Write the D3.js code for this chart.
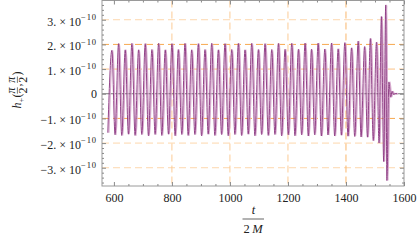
<!DOCTYPE html>
<html>
<head>
<meta charset="utf-8">
<script src="https://cdn.jsdelivr.net/npm/d3@7"></script>
<style>
  body { margin: 0; background: #fff; }
  svg { display: block; font-family: "Liberation Serif", "DejaVu Serif", serif; }
</style>
</head>
<body>
<div id="chart"></div>
<script>
// waveform, strain in units of 1e-10
const startTime = 579;
const startValue = -1.58;

const peakTimes = [593, 616, 639, 662, 685, 708, 731, 754, 777, 800,
    822, 845, 868, 891, 914, 937, 960, 983, 1006, 1029,
    1052, 1075, 1098, 1121, 1144, 1167, 1190, 1213, 1236, 1259,
    1281, 1304, 1327, 1350, 1373, 1396, 1419, 1442, 1464, 1484,
    1505, 1522, 1537];
const peakValues = [1.76, 2.03, 1.78, 2.04, 1.78, 2.03, 1.79, 2.04, 1.78, 2.03,
    1.79, 2.04, 1.78, 2.03, 1.79, 2.04, 1.78, 2.03, 1.79, 2.04,
    1.78, 2.04, 1.79, 2.03, 1.79, 2.04, 1.80, 2.04, 1.80, 2.05,
    1.80, 2.05, 1.81, 2.05, 1.82, 2.07, 1.86, 2.13, 1.91, 2.24,
    2.09, 3.13, 3.60];

const troughTimes = [604, 627, 650, 673, 696, 719, 742, 765, 788, 811,
    834, 856, 879, 902, 925, 948, 971, 994, 1017, 1040,
    1063, 1086, 1109, 1132, 1155, 1178, 1201, 1224, 1247, 1270,
    1292, 1315, 1338, 1361, 1384, 1407, 1430, 1452, 1474, 1494,
    1514, 1530, 1541];
const troughValues = [-1.66, -1.69, -1.64, -1.69, -1.65, -1.70, -1.65, -1.69, -1.64, -1.70,
    -1.65, -1.69, -1.65, -1.70, -1.64, -1.69, -1.65, -1.70, -1.65, -1.69,
    -1.64, -1.70, -1.65, -1.69, -1.65, -1.70, -1.66, -1.70, -1.66, -1.71,
    -1.66, -1.71, -1.67, -1.71, -1.68, -1.72, -1.73, -1.75, -1.76, -1.90,
    -2.00, -2.75, -3.52];

const ringTimes = [1548, 1554, 1559, 1564, 1570, 1576];
const ringValues = [0.48, -0.14, 0.10, -0.03, 0.01, 0];

const xTicks = [600, 800, 1000, 1200, 1400, 1600];
const xGrid = [800, 1000, 1200, 1400];
const yTicks = [-3, -2, -1, 0, 1, 2, 3];
const yGrid = [-3, -2, -1, 1, 2, 3];
const yExponent = "\u221210";

const [W, H] = [417, 247];
const [pLeft, pRight, pTop, pBottom] = [102, 404, 0.5, 186];

let svg = d3.select("#chart")
    .append("svg")
    .attr("width", W)
    .attr("height", H);

const x = d3.scaleLinear().domain([559, 1600]).range([pLeft, pRight]);
const y = d3.scaleLinear().domain([-3.74, 3.78]).range([pBottom, pTop]);

// build the point list: start, then peak / trough in turn, then ringdown
let points = [{t: startTime, h: startValue}];
peakTimes.forEach((t, i) => {
    points.push({t: t, h: peakValues[i]});
    points.push({t: troughTimes[i], h: troughValues[i]});
});
ringTimes.forEach((t, i) => points.push({t: t, h: ringValues[i]}));

// grid
const gridColor = v => (v === 2 || v === -1) ? "#f7a94f" : (v === 1 ? "#fbc185" : "#fdd7ad");

svg.append("g")
    .selectAll("line")
    .data(yGrid)
    .enter()
    .append("line")
    .attr("x1", pLeft).attr("x2", pRight)
    .attr("y1", d => y(d)).attr("y2", d => y(d))
    .attr("stroke", d => gridColor(d))
    .attr("stroke-width", 1)
    .attr("stroke-dasharray", "7,4");

svg.append("g")
    .selectAll("line")
    .data(xGrid)
    .enter()
    .append("line")
    .attr("x1", d => x(d)).attr("x2", d => x(d))
    .attr("y1", pTop).attr("y2", pBottom)
    .attr("stroke", d => d === 1400 ? "#f9b66c" : "#fccb95")
    .attr("stroke-width", 1)
    .attr("stroke-dasharray", "7,4");

// zero axis
svg.append("line")
    .attr("x1", pLeft).attr("x2", pRight)
    .attr("y1", y(0)).attr("y2", y(0))
    .attr("stroke", "#6a6a6a")
    .attr("stroke-width", 0.9);

// curve
svg.append("clipPath")
    .attr("id", "plot-clip")
    .append("rect")
    .attr("x", pLeft).attr("y", pTop)
    .attr("width", pRight - pLeft).attr("height", pBottom - pTop);

const line = d3.line()
    .x(d => x(d.t))
    .y(d => y(d.h))
    .curve(d3.curveMonotoneX);

let curve = svg.append("g").attr("clip-path", "url(#plot-clip)");

curve.append("path")
    .datum(points)
    .attr("d", line)
    .attr("fill", "none")
    .attr("stroke", "#d8accf")
    .attr("stroke-width", 1.3)
    .attr("transform", "translate(1.1,0)");

curve.append("path")
    .datum(points)
    .attr("d", line)
    .attr("fill", "none")
    .attr("stroke", "#8d3a83")
    .attr("stroke-width", 0.95);

// frame
svg.append("rect")
    .attr("x", pLeft).attr("y", pTop)
    .attr("width", pRight - pLeft).attr("height", pBottom - pTop)
    .attr("fill", "none")
    .attr("stroke", "#9a9a9a")
    .attr("stroke-width", 1);

const xMinor = d3.range(550, 1601, 50).filter(v => v >= 559 && !xTicks.includes(v));
const yMinor = d3.range(-36, 38, 2).map(v => v / 10).filter(v => !yTicks.includes(v));

const styleAxis = g => {
    g.attr("font-family", null);
    g.select(".domain").remove();
    g.selectAll("line").attr("stroke", "#8a8a8a");
    g.selectAll("text").attr("font-family", "Liberation Serif").attr("font-size", 12).attr("fill", "#222");
};

// x axis (bottom with labels, top mirrored)
svg.append("g")
    .attr("transform", `translate(0,${pBottom})`)
    .call(d3.axisBottom(x).tickValues(xTicks).tickSizeInner(-4).tickSizeOuter(0).tickPadding(7.5).tickFormat(d3.format("d")))
    .call(styleAxis);
svg.append("g")
    .attr("transform", `translate(0,${pBottom})`)
    .call(d3.axisBottom(x).tickValues(xMinor).tickSizeInner(-2).tickSizeOuter(0).tickFormat(""))
    .call(styleAxis);
svg.append("g")
    .attr("transform", `translate(0,${pTop})`)
    .call(d3.axisTop(x).tickValues(xTicks).tickSizeInner(-4).tickSizeOuter(0).tickFormat(""))
    .call(styleAxis);
svg.append("g")
    .attr("transform", `translate(0,${pTop})`)
    .call(d3.axisTop(x).tickValues(xMinor).tickSizeInner(-2).tickSizeOuter(0).tickFormat(""))
    .call(styleAxis);

// y axis (left with labels, right mirrored)
svg.append("g")
    .attr("transform", `translate(${pLeft},0)`)
    .call(d3.axisLeft(y).tickValues(yTicks).tickSizeInner(-4).tickSizeOuter(0).tickFormat(""))
    .call(styleAxis);
svg.append("g")
    .attr("transform", `translate(${pLeft},0)`)
    .call(d3.axisLeft(y).tickValues(yMinor).tickSizeInner(-2).tickSizeOuter(0).tickFormat(""))
    .call(styleAxis);
svg.append("g")
    .attr("transform", `translate(${pRight},0)`)
    .call(d3.axisRight(y).tickValues(yTicks).tickSizeInner(-4).tickSizeOuter(0).tickFormat(""))
    .call(styleAxis);
svg.append("g")
    .attr("transform", `translate(${pRight},0)`)
    .call(d3.axisRight(y).tickValues(yMinor).tickSizeInner(-2).tickSizeOuter(0).tickFormat(""))
    .call(styleAxis);

// y tick labels like "3.×10^-10"
let yLabels = svg.append("g")
    .attr("font-size", 12)
    .attr("fill", "#222")
    .selectAll("text")
    .data(yTicks)
    .enter()
    .append("text")
    .attr("text-anchor", "end")
    .attr("x", pLeft - 5)
    .attr("y", d => d === 0 ? y(d) + 4 : y(d) + 5.8);

yLabels.filter(d => d === 0).text("0");
yLabels.filter(d => d !== 0)
    .append("tspan")
    .text(d => `${d < 0 ? "\u2212" : ""}${Math.abs(d)}. × 10`);
yLabels.filter(d => d !== 0)
    .append("tspan")
    .attr("dy", -5.4)
    .attr("font-size", 8.5)
    .attr("letter-spacing", 0.9)
    .text(yExponent);

// x title: t over 2M
let xt = svg.append("g").attr("font-size", 12.5).attr("fill", "#222");
xt.append("text")
    .attr("x", (pLeft + pRight) / 2 + 0.5).attr("y", 214)
    .attr("text-anchor", "middle")
    .attr("font-style", "italic")
    .text("t");
xt.append("line")
    .attr("x1", (pLeft + pRight) / 2 - 10.5).attr("x2", (pLeft + pRight) / 2 + 11)
    .attr("y1", 219).attr("y2", 219)
    .attr("stroke", "#222").attr("stroke-width", 0.7);
let den = xt.append("text")
    .attr("x", (pLeft + pRight) / 2).attr("y", 233)
    .attr("text-anchor", "middle");
den.append("tspan").text("2\u2009");
den.append("tspan").attr("font-style", "italic").text("M");

// y title: h+(pi/2, pi/2), rotated
let yt = svg.append("g")
    .attr("transform", "translate(21,90) rotate(-90)")
    .attr("font-size", 12)
    .attr("fill", "#222");
yt.append("text").attr("x", -18.5).attr("y", 0).attr("font-style", "italic").text("h");
yt.append("text").attr("x", -12.5).attr("y", 3).attr("font-size", 8.5).text("+");
yt.append("text").attr("x", -7.6).attr("y", 0).text("(");

const fraction = cx => {
    yt.append("text").attr("x", cx).attr("y", -6.3).attr("text-anchor", "middle").attr("font-style", "italic").text("\u03c0");
    yt.append("line").attr("x1", cx - 3.2).attr("x2", cx + 3.2).attr("y1", -3.6).attr("y2", -3.6)
        .attr("stroke", "#222").attr("stroke-width", 0.6);
    yt.append("text").attr("x", cx).attr("y", 6.2).attr("text-anchor", "middle").text("2");
};
fraction(-0.5);
yt.append("text").attr("x", 3.6).attr("y", 0).text(",");
fraction(10.3);
yt.append("text").attr("x", 14.6).attr("y", 0).text(")");
</script>
</body>
</html>
